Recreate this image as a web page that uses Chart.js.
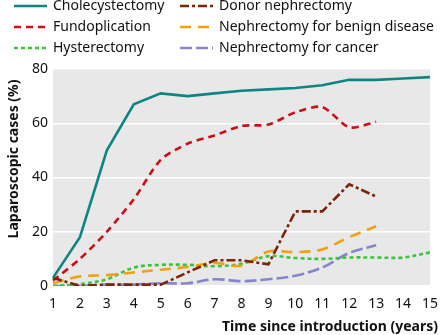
<!DOCTYPE html>
<html>
<head>
<meta charset="utf-8">
<script src="https://cdn.jsdelivr.net/npm/chart.js@4/dist/chart.umd.min.js"></script>
<style>
  html, body { margin: 0; padding: 0; background: #fff; }
  #wrap { width: 440px; height: 335px; position: relative; }
</style>
</head>
<body>
<div id="wrap"><canvas id="lapChart" width="440" height="335"></canvas></div>
<script>
// years since introduction
var years = ['1','2','3','4','5','6','7','8','9','10','11','12','13','14','15'];
var yTicks = [0, 20, 40, 60, 80];
var xTitle = 'Time since introduction (years)';
var yTitle = 'Laparoscopic cases (%)';

// percentage of cases done laparoscopically
var cholecystectomy = [3, 18, 50, 67, 71, 70, 71, 72, 72.5, 73, 74, 76, 76, 76.5, 77];
var fundoplication  = [2, 10, 20, 32, 46.5, 52.5, 55.5, 59, 59.5, 64, 66, 58.5, 60.5];
var donorNephrectomy = [3, 0, 0.5, 0.5, 0.5, 5, 9.5, 9.5, 8, 27.5, 27.5, 37.5, 33];
var nephBenign = [1, 3.5, 4, 5, 6, 7, 8.5, 7.5, 12.7, 12.5, 13.5, 18, 22];
var hysterectomy = [0, 0.7, 2.5, 6.8, 7.8, 7.8, 7.3, 8.2, 11, 10.3, 10, 10.5, 10.5, 10.5, 12.4];
var nephCancer = [0, 0, 0.5, 0.5, 1, 1, 2.5, 1.8, 2.5, 3.8, 6.8, 12.2, 15];

var FONT = '"Noto Sans", "DejaVu Sans", sans-serif';

function line(label, data, color, dash, tension) {
  return {
    label: label, data: data, borderColor: color, backgroundColor: color,
    borderDash: dash, borderWidth: 2.6, tension: tension,
    pointRadius: 0, fill: false
  };
}

var datasets = [
  line('Cholecystectomy', cholecystectomy, '#0f8582', [], 0),
  line('Donor nephrectomy', donorNephrectomy, '#7a2408', [9, 3, 3, 3], 0),
  line('Fundoplication', fundoplication, '#cc0d1a', [7, 5], 0.25),
  line('Nephrectomy for benign disease', nephBenign, '#f0a010', [11, 7], 0.35),
  line('Hysterectomy', hysterectomy, '#3cc43c', [4, 3], 0.35),
  line('Nephrectomy for cancer', nephCancer, '#8585cc', [12, 4], 0.35)
];

// grey panel behind the plot
var panelBg = {
  id: 'panelBg',
  beforeDraw: function (chart) {
    var a = chart.chartArea, ctx = chart.ctx;
    ctx.save();
    ctx.fillStyle = '#e8e8e8';
    ctx.fillRect(a.left, a.top, a.right - a.left, a.bottom - a.top);
    ctx.restore();
  }
};

// two-column legend with line samples, plus the axis titles
var lineLegend = {
  id: 'lineLegend',
  afterDraw: function (chart) {
    var ctx = chart.ctx;
    var cols = [14, 180], rows = [6, 27, 48];
    ctx.save();
    ctx.font = '14px ' + FONT;
    ctx.textBaseline = 'middle';
    chart.data.datasets.forEach(function (ds, i) {
      var x = cols[i % 2], y = rows[Math.floor(i / 2)];
      ctx.strokeStyle = ds.borderColor;
      ctx.lineWidth = 2.6;
      ctx.setLineDash(ds.borderDash);
      ctx.beginPath();
      ctx.moveTo(x, y);
      ctx.lineTo(x + 33, y);
      ctx.stroke();
      ctx.setLineDash([]);
      ctx.fillStyle = '#111';
      ctx.fillText(ds.label, x + 39, y);
    });

    ctx.font = 'bold 14px ' + FONT;
    ctx.textAlign = 'right';
    ctx.fillText(xTitle, 438, 327);

    ctx.translate(14, 159);
    ctx.rotate(-Math.PI / 2);
    ctx.textAlign = 'center';
    ctx.fillText(yTitle, 0, 0);
    ctx.restore();
  }
};

new Chart(document.getElementById('lapChart'), {
  type: 'line',
  data: { labels: years, datasets: datasets },
  options: {
    responsive: false,
    animation: false,
    layout: { padding: { top: 69, right: 7, left: 0, bottom: 0 } },
    plugins: { legend: { display: false }, tooltip: { enabled: false } },
    scales: {
      x: {
        offset: false,
        grid: { display: false },
        border: { display: false },
        ticks: { color: '#111', font: { family: FONT, size: 14 }, padding: 2, maxRotation: 0, autoSkip: false },
        afterFit: function (s) { s.height = 49; }
      },
      y: {
        min: 0, max: 80,
        afterBuildTicks: function (s) { s.ticks = yTicks.map(function (v) { return { value: v }; }); },
        grid: { color: '#ffffff', lineWidth: 1.5, drawTicks: false },
        border: { display: false },
        ticks: { color: '#111', font: { family: FONT, size: 14 }, padding: 5 },
        afterFit: function (s) { s.width = 53; }
      }
    }
  },
  plugins: [panelBg, lineLegend]
});
</script>
</body>
</html>
